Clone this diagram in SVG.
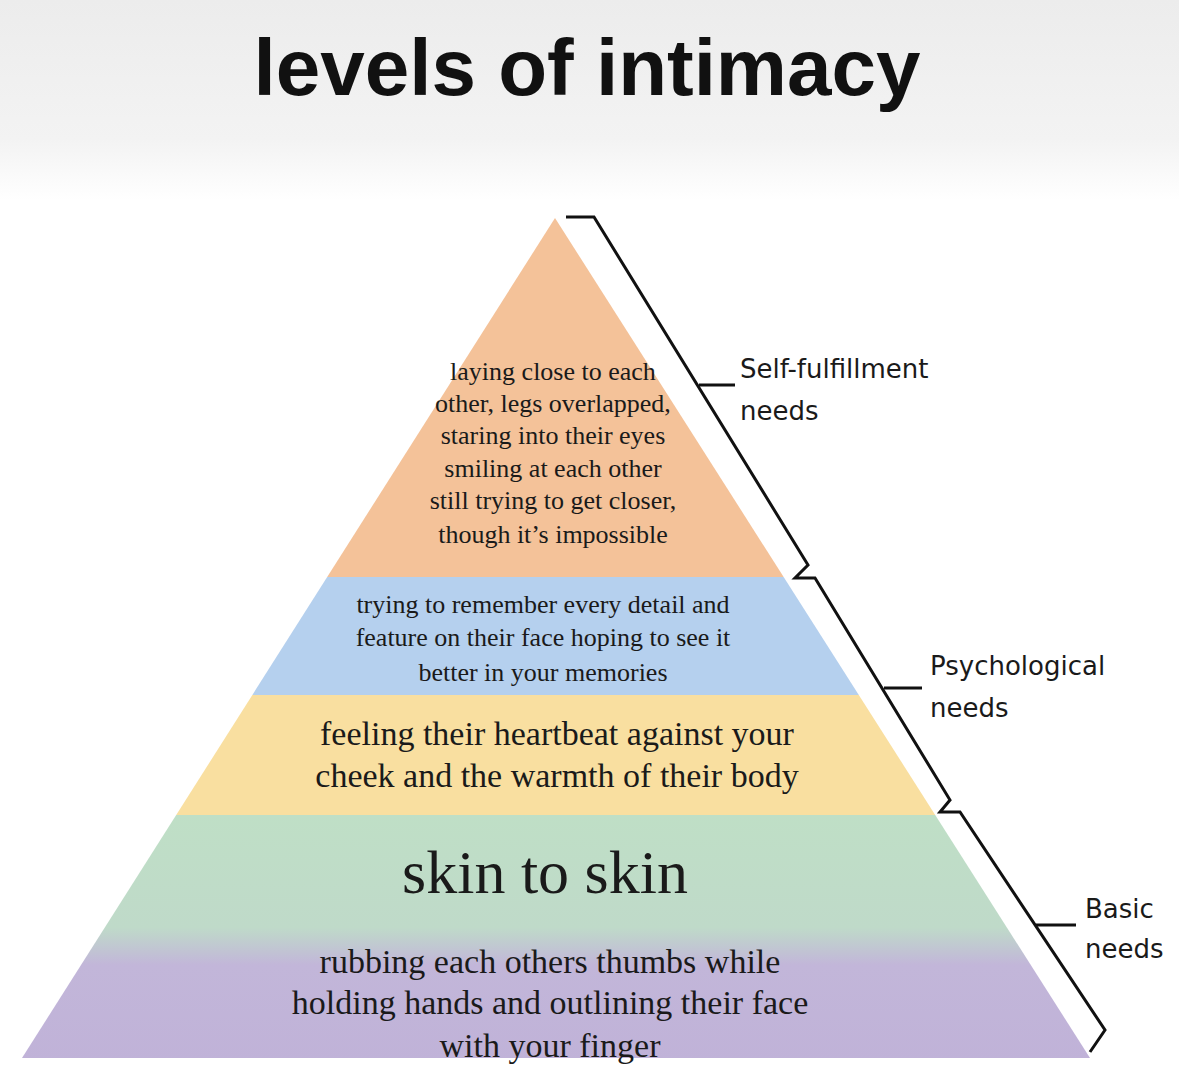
<svg xmlns="http://www.w3.org/2000/svg" width="1179" height="1068" viewBox="0 0 1179 1068">
<defs>
<linearGradient id="bg" x1="0" y1="0" x2="0" y2="1"><stop offset="0" stop-color="#ececec"/><stop offset="0.7" stop-color="#f3f3f3"/><stop offset="1" stop-color="#ffffff"/></linearGradient>
<linearGradient id="gp" x1="0" y1="0" x2="0" y2="1"><stop offset="0" stop-color="#bfdfc6"/><stop offset="0.45" stop-color="#bfdac9"/><stop offset="0.6" stop-color="#c2b6d9"/><stop offset="1" stop-color="#c0b2d8"/></linearGradient>
<clipPath id="tri"><polygon points="555,218 22,1058 1090,1058"/></clipPath>
<style>
.s{font-family:"Liberation Serif","DejaVu Serif",serif;fill:#1a1a1a;text-anchor:middle}
.l{font-family:"DejaVu Sans","Liberation Sans",sans-serif;fill:#1a1a1a}
.br{fill:none;stroke:#111;stroke-width:3;stroke-linejoin:miter}
</style>
</defs>
<rect width="1179" height="1068" fill="#fff"/>
<rect width="1179" height="200" fill="url(#bg)"/>
<text x="587" y="95" font-family="Liberation Sans,Arial,sans-serif" font-weight="bold" font-size="80" text-anchor="middle" fill="#111">levels of intimacy</text>
<g clip-path="url(#tri)">
<g id="level-top"><rect x="0" y="210" width="1179" height="367" fill="#f4c299"/></g>
<g id="level-2"><rect x="0" y="577" width="1179" height="118" fill="#b5d0ee"/></g>
<g id="level-3"><rect x="0" y="695" width="1179" height="120" fill="#f9dfa0"/></g>
<g id="level-base"><rect x="0" y="815" width="1179" height="250" fill="url(#gp)"/></g>
</g>
<g class="s" font-size="26">
<text x="553" y="380">laying close to each</text>
<text x="553" y="412">other, legs overlapped,</text>
<text x="553" y="444">staring into their eyes</text>
<text x="553" y="477">smiling at each other</text>
<text x="553" y="509">still trying to get closer,</text>
<text x="553" y="543">though it’s impossible</text>
<text x="543" y="613">trying to remember every detail and</text>
<text x="543" y="646">feature on their face hoping to see it</text>
<text x="543" y="681">better in your memories</text>
</g>
<g class="s" font-size="34">
<text x="557" y="745">feeling their heartbeat against your</text>
<text x="557" y="787">cheek and the warmth of their body</text>
<text x="545" y="893" font-size="62">skin to skin</text>
<text x="550" y="973">rubbing each others thumbs while</text>
<text x="550" y="1014">holding hands and outlining their face</text>
<text x="550" y="1057">with your finger</text>
</g>
<g id="connectors">
<polyline class="br" points="566,217 594,217 808,565 795,578 815,578 950,800 940,812 960,812 1105,1030 1090,1052"/>
<line class="br" x1="699" y1="385" x2="735" y2="385"/>
<line class="br" x1="884" y1="688" x2="922" y2="688"/>
<line class="br" x1="1036" y1="925" x2="1076" y2="925"/>
</g>
<g class="l" font-size="26">
<text x="740" y="378">Self-fulfillment</text>
<text x="740" y="420">needs</text>
<text x="930" y="675">Psychological</text>
<text x="930" y="717">needs</text>
<text x="1085" y="918">Basic</text>
<text x="1085" y="958">needs</text>
</g>
</svg>
